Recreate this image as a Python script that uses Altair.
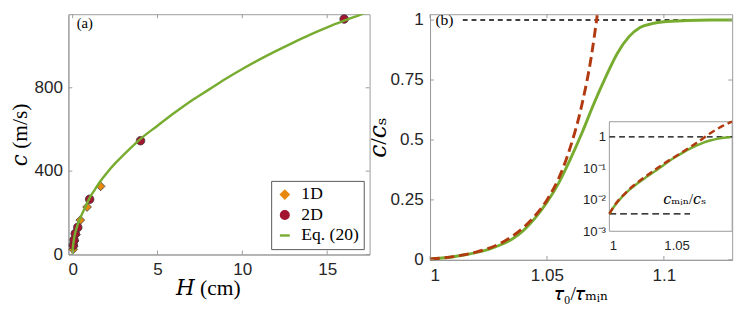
import altair as alt
import pandas as pd

# ---------------- panel (a) data ----------------
H_1D = [0.03, 0.06, 0.12, 0.2, 0.45, 0.85, 1.65]
C_1D = [25, 40, 65, 95, 165, 228, 327]
H_2D = [0.04, 0.08, 0.15, 0.3, 1.0, 4.0, 16.0]
C_2D = [45, 70, 100, 130, 265, 546, 1130]
H_EQ = [0, 0.01, 0.03, 0.06, 0.1, 0.18, 0.3, 0.5, 0.75, 1, 1.3, 1.6, 2, 2.5, 3, 4,
        5, 6, 7, 8, 9, 10, 11, 12, 13, 14, 15, 16, 17, 17.5]
C_EQ = [0, 26, 46, 65, 85, 113, 145, 185, 228, 272, 310, 348, 390, 437, 478, 555,
        618, 680, 738, 790, 842, 890, 935, 977, 1017, 1055, 1090, 1122, 1152, 1168]
SERIES = ["1D", "2D", "Eq. (20)"]
XT_A = [0, 5, 10, 15]
YT_A = [0, 400, 800]
XDOM_A = [-0.25, 17.5]
YDOM_A = [0, 1153]

# ---------------- panel (b) data ----------------
T_G = [1.000, 1.005, 1.010, 1.015, 1.020, 1.025, 1.030, 1.035, 1.040, 1.045, 1.050,
       1.055, 1.060, 1.065, 1.070, 1.075, 1.080, 1.085, 1.090, 1.095, 1.100, 1.110,
       1.120, 1.1292]
V_G = [0.0036, 0.0075, 0.013, 0.021, 0.031, 0.044, 0.062, 0.086, 0.123, 0.175, 0.24,
       0.32, 0.42, 0.53, 0.65, 0.76, 0.86, 0.93, 0.97, 0.985, 0.993, 0.998, 1.0, 1.0]
T_R = [1.000, 1.005, 1.010, 1.015, 1.020, 1.025, 1.030, 1.035, 1.040, 1.045, 1.050,
       1.055, 1.060, 1.065, 1.069, 1.0715, 1.075, 1.080, 1.085, 1.0913]
V_R = [0.0036, 0.0078, 0.0135, 0.022, 0.033, 0.048, 0.068, 0.097, 0.135, 0.185, 0.25,
       0.34, 0.47, 0.65, 0.85, 1.02, 1.3, 1.75, 2.3, 3.0]
T_ONE = [1.014, 1.1292]
XT_B = [1, 1.05, 1.1]
YT_B = [0, 0.25, 0.5, 0.75, 1]
XDOM_B = [1, 1.1292]
YDOM_B = [0, 1.0244]

# inset
XDOM_I = [1, 1.0913]
YDOM_I = [0.001, 3]
C_MIN = 0.0036
T_CMIN = [1, 1.06]
XT_I = [1, 1.05]
YT_I = [0.001, 0.01, 0.1, 1]

# ---------------- styles ----------------
ORANGE = "#E8890C"
CRIMSON = "#A2142F"
GREEN = "#77AC30"
RUST = "#B23A10"
GRAY = "#9a9a9a"
SANS = "Liberation Sans"
SERIF = "Liberation Serif, DejaVu Serif, serif"
LBL = 17.5
TTL = 20
LINE_SYMBOL = "M-1,-0.11L1,-0.11L1,0.11L-1,0.11Z"

W_A, H_A = 309, 246.5
W_B, H_B = 310, 252
TL = 4

AX_COMMON = dict(labelFont=SANS, labelColor="#262626", labelFontSize=LBL,
                 titleFont=SERIF, titleFontWeight="normal", titleColor="black",
                 grid=False, ticks=False, domainColor=GRAY)


def tick_layers(vals, field, scale, axis, chan, w, h):
    df = pd.DataFrame({field: vals})
    base = alt.Chart(df).mark_rule(color=GRAY, strokeWidth=1)
    if chan == "x":
        enc = alt.X(f"{field}:Q", scale=scale, axis=axis)
        return [base.encode(x=enc, y=alt.value(h), y2=alt.value(h - TL)),
                base.encode(x=enc, y=alt.value(0), y2=alt.value(TL))]
    enc = alt.Y(f"{field}:Q", scale=scale, axis=axis)
    return [base.encode(y=enc, x=alt.value(0), x2=alt.value(TL)),
            base.encode(y=enc, x=alt.value(w), x2=alt.value(w - TL))]


# ---------------- panel (a) ----------------
xs_a = alt.Scale(domain=XDOM_A, nice=False, zero=False)
ys_a = alt.Scale(domain=YDOM_A, nice=False, zero=False)
col = alt.Scale(domain=SERIES, range=[ORANGE, CRIMSON, GREEN])
shp = alt.Scale(domain=SERIES, range=["diamond", "circle", LINE_SYMBOL])
siz = alt.Scale(domain=SERIES, range=[80, 75, 529])
leg = alt.Legend(title=None, orient="bottom-right", offset=6,
                 labelFont=SERIF, labelFontSize=18, labelColor="black",
                 padding=5, rowPadding=3, labelOffset=8,
                 strokeColor="#555555", fillColor="white", symbolOpacity=1)

pts_df = pd.DataFrame({
    "H": H_1D + H_2D,
    "c": C_1D + C_2D,
    "s": [SERIES[0]] * len(H_1D) + [SERIES[1]] * len(H_2D),
})
eq_df = pd.DataFrame({"H": H_EQ, "c": C_EQ, "s": SERIES[2]})

ax_xa = alt.Axis(values=XT_A, format="d", labelPadding=7, titleFontSize=22,
                 title="𝐻 (cm)", titlePadding=0, titleX=143, **AX_COMMON)
ax_ya = alt.Axis(values=YT_A, format="d", labelPadding=6, titleFontSize=22,
                 title="𝑐 (m/s)", titlePadding=3, **AX_COMMON)

pts = alt.Chart(pts_df).mark_point(
    filled=True, opacity=1, stroke="#3a3a3a", strokeWidth=0.8
).encode(
    x=alt.X("H:Q", scale=xs_a, axis=ax_xa),
    y=alt.Y("c:Q", scale=ys_a, axis=ax_ya),
    color=alt.Color("s:N", scale=col, legend=leg),
    shape=alt.Shape("s:N", scale=shp, legend=leg),
    size=alt.Size("s:N", scale=siz, legend=leg),
)
eq = alt.Chart(eq_df).mark_line(strokeWidth=2.5, clip=True, interpolate="monotone").encode(
    x=alt.X("H:Q", scale=xs_a, axis=ax_xa),
    y=alt.Y("c:Q", scale=ys_a, axis=ax_ya),
    color=alt.Color("s:N", scale=col, legend=leg),
)
lab_a = alt.Chart(pd.DataFrame({"t": ["(a)"]})).mark_text(
    align="left", baseline="middle", font=SERIF, fontSize=15, color="black"
).encode(text="t:N", x=alt.value(8.5), y=alt.value(8.7))

panel_a = alt.layer(
    pts, eq, lab_a,
    *tick_layers(XT_A, "H", xs_a, ax_xa, "x", W_A, H_A),
    *tick_layers(YT_A, "c", ys_a, ax_ya, "y", W_A, H_A),
).properties(width=W_A, height=H_A)

# ---------------- panel (b) ----------------
xs_b = alt.Scale(domain=XDOM_B, nice=False, zero=False)
ys_b = alt.Scale(domain=YDOM_B, nice=False, zero=False)
ax_xb = alt.Axis(values=XT_B, format=".3~g", labelPadding=7, titleFontSize=TTL,
                 title="𝜏₀/𝜏ₘᵢₙ", titlePadding=0, **AX_COMMON)
ax_yb = alt.Axis(values=YT_B, format=".3~g", labelPadding=7, titleFontSize=24,
                 title="𝑐/𝑐ₛ", titlePadding=0, **AX_COMMON)

g_df = pd.DataFrame({"t": T_G, "v": V_G})
r_df = pd.DataFrame({"t": T_R, "v": V_R})
one_df = pd.DataFrame({"t": T_ONE, "v": [1.0, 1.0]})


def xb():
    return alt.X("t:Q", scale=xs_b, axis=ax_xb)


def yb():
    return alt.Y("v:Q", scale=ys_b, axis=ax_yb)


g_main = alt.Chart(g_df).mark_line(color=GREEN, strokeWidth=3, interpolate="monotone").encode(
    x=xb(), y=yb())
r_main = alt.Chart(r_df).transform_filter("datum.v <= 1.021").mark_line(
    color=RUST, strokeWidth=3, strokeDash=[10, 5], interpolate="monotone"
).encode(x=xb(), y=yb())
one_main = alt.Chart(one_df).mark_line(color="black", strokeWidth=1.5, strokeDash=[5, 4]).encode(
    x=xb(), y=yb())
lab_b = alt.Chart(pd.DataFrame({"t": ["(b)"]})).mark_text(
    align="left", baseline="middle", font=SERIF, fontSize=16, color="black"
).encode(text="t:N", x=alt.value(5.5), y=alt.value(6))

main_b = alt.layer(
    one_main, g_main, r_main, lab_b,
    *tick_layers(XT_B, "t", xs_b, ax_xb, "x", W_B, H_B),
    *tick_layers(YT_B, "v", ys_b, ax_yb, "y", W_B, H_B),
)

# inset
IN_L, IN_R, IN_B, IN_T = 184, 310, 222.7, 110.3
xs_i = alt.Scale(domain=XDOM_I, range=[IN_L, IN_R], nice=False, zero=False)
ys_i = alt.Scale(type="log", domain=YDOM_I, range=[IN_B, IN_T], nice=False)
log_expr = ("datum.value >= 0.99 ? '1' : '10' + "
            "(round(log(datum.value)/LN10) == -1 ? '⁻¹' : "
            "round(log(datum.value)/LN10) == -2 ? '⁻²' : '⁻³')")
ax_xi = alt.Axis(orient="bottom", offset=-(H_B - IN_B), values=XT_I, format=".3~g",
                 labelFontSize=13.5, labelPadding=8, domain=False, ticks=False,
                 labelFont=SANS, labelColor="#262626", grid=False, title="")
ax_yi = alt.Axis(orient="left", offset=-IN_L, values=YT_I, labelExpr=log_expr,
                 labelFontSize=13.5, labelPadding=4, domain=False, ticks=False,
                 labelFont=SANS, labelColor="#262626", grid=False, title="")


def xi(f="t"):
    return alt.X(f"{f}:Q", scale=xs_i, axis=ax_xi)


def yi(f="v"):
    return alt.Y(f"{f}:Q", scale=ys_i, axis=ax_yi)


frame_df = pd.DataFrame({"t": [XDOM_I[0]], "t2": [XDOM_I[1]],
                         "v": [YDOM_I[0]], "v2": [YDOM_I[1]]})
frame = alt.Chart(frame_df).mark_rect(fill="white", stroke=GRAY, strokeWidth=1).encode(
    x=xi(), x2="t2:Q", y=yi(), y2="v2:Q")
one_i = alt.Chart(pd.DataFrame({"t": XDOM_I, "v": [1.0, 1.0]})).mark_line(
    color="black", strokeWidth=1.3, strokeDash=[6, 4]).encode(x=xi(), y=yi())
cmin_i = alt.Chart(pd.DataFrame({"t": T_CMIN, "v": [C_MIN, C_MIN]})).mark_line(
    color="black", strokeWidth=1.3, strokeDash=[7, 4]).encode(x=xi(), y=yi())
g_i = alt.Chart(g_df).transform_filter("datum.t <= 1.0914").mark_line(
    color=GREEN, strokeWidth=2.5, interpolate="monotone", clip=True
).encode(x=xi(), y=yi())
r_i = alt.Chart(r_df).mark_line(
    color=RUST, strokeWidth=2.5, strokeDash=[7, 4], interpolate="monotone", clip=True
).encode(x=xi(), y=yi())
txt_i = alt.Chart(pd.DataFrame({"t": [1.040], "v": [0.0105], "s": ["𝑐ₘᵢₙ/𝑐ₛ"]})).mark_text(
    align="left", baseline="middle", font=SERIF, fontSize=15, color="black"
).encode(x=xi(), y=yi(), text="s:N")

inset = alt.layer(frame, one_i, cmin_i, g_i, r_i, txt_i)

panel_b = alt.layer(main_b, inset).resolve_scale(
    x="independent", y="independent"
).properties(width=W_B, height=H_B)

chart = alt.hconcat(panel_a, panel_b, spacing=62, bounds="flush").resolve_scale(
    color="independent", shape="independent", size="independent"
).resolve_legend(
    color="independent", shape="independent", size="independent"
).properties(
    padding={"top": -3.5, "left": 0, "right": 0, "bottom": 0}
).configure_view(stroke=GRAY, strokeWidth=1)

chart.save("out.html", embed_options={"renderer": "svg", "actions": False})
